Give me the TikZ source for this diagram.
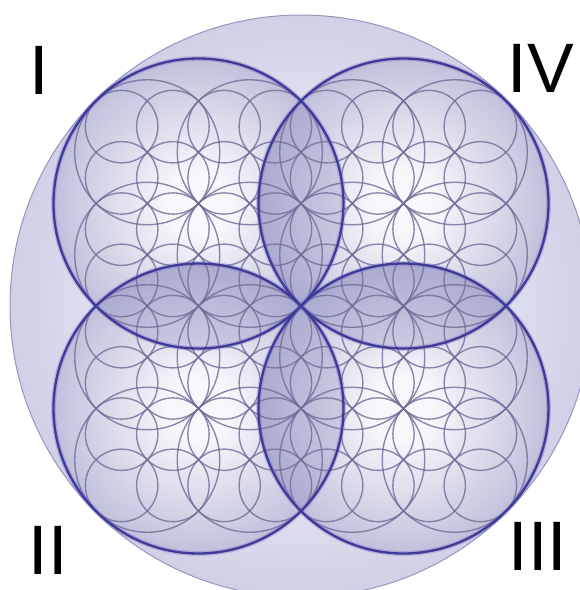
\documentclass[tikz,border=0pt]{standalone}
\usepackage{fontspec}
\setmainfont{Liberation Sans}
\definecolor{bigin}{RGB}{234,234,246}
\definecolor{bigout}{RGB}{208,208,231}
\definecolor{bigedge}{RGB}{150,150,190}
\definecolor{qin}{RGB}{248,248,252}
\definecolor{qout}{RGB}{192,192,220}
\definecolor{qedge}{RGB}{62,58,152}
\definecolor{qglow}{RGB}{120,118,200}
\definecolor{petalc}{RGB}{112,108,152}
\definecolor{lensc}{RGB}{100,98,170}
\pgfdeclareradialshading{bigshade}{\pgfpoint{0bp}{0bp}}{color(0bp)=(bigin); color(12bp)=(bigin); color(25bp)=(bigout); color(50bp)=(bigout)}
\pgfdeclareradialshading{quadshade}{\pgfpoint{0bp}{0bp}}{color(0bp)=(qin); color(5bp)=(qin); color(25bp)=(qout); color(50bp)=(qout)}
\tikzset{
  petal/.style={draw=petalc, line width=1.4pt, draw opacity=0.8},
  qborder/.style={draw=qedge, line width=2.3pt},
  qhalo/.style={draw=qglow, line width=5pt, draw opacity=0.35},
  label/.style={font=\fontsize{70}{70}\selectfont, inner sep=0pt, text=black}
}
\begin{document}
\begin{tikzpicture}[x=1pt,y=-1pt]
\useasboundingbox (0,0) rectangle (580,590);
\coordinate (P) at (301,306);
\coordinate (cI) at (198.5,203.5);
\coordinate (cIV) at (403.5,203.5);
\coordinate (cII) at (198.5,408.5);
\coordinate (cIII) at (403.5,408.5);
% big circle
\shade[shading=bigshade] (P) circle (291);
\draw[draw=bigedge, line width=1pt] (P) circle (291);
% quadrant fills
\foreach \c in {cI,cIV,cII,cIII} {
  \shade[shading=quadshade] (\c) circle (145);
}
% overlaps
\begin{scope}
  \clip (cI) circle (145);
  \fill[lensc, fill opacity=0.22] (cIV) circle (145);
  \fill[lensc, fill opacity=0.22] (cII) circle (145);
\end{scope}
\begin{scope}
  \clip (cIII) circle (145);
  \fill[lensc, fill opacity=0.22] (cIV) circle (145);
  \fill[lensc, fill opacity=0.22] (cII) circle (145);
\end{scope}
% flower patterns: 4 circles of radius R/2, each holding 4 circles of radius R/4
\foreach \c in {cI,cIV,cII,cIII} {
  \foreach \i in {-1,1} {
    \foreach \j in {-1,1} {
      \draw[petal, shift={(\c)}] (\i*51.26,\j*51.26) circle (72.5);
    }
  }
  \foreach \i in {-3,-1,1,3} {
    \foreach \j in {-3,-1,1,3} {
      \draw[petal, shift={(\c)}] (\i*25.63,\j*25.63) circle (36.25);
    }
  }
}
% quadrant borders
\foreach \c in {cI,cIV,cII,cIII} {
  \draw[qhalo] (\c) circle (145);
}
\foreach \c in {cI,cIV,cII,cIII} {
  \draw[qborder] (\c) circle (145);
}
% labels
\node[label] (lI) at (39,70) {I};
\node[label] (lIV) at (541,68) {IV};
\node[label] (lII) at (48,550) {II};
\node[label] (lIII) at (538,546) {III};
\end{tikzpicture}
\end{document}
